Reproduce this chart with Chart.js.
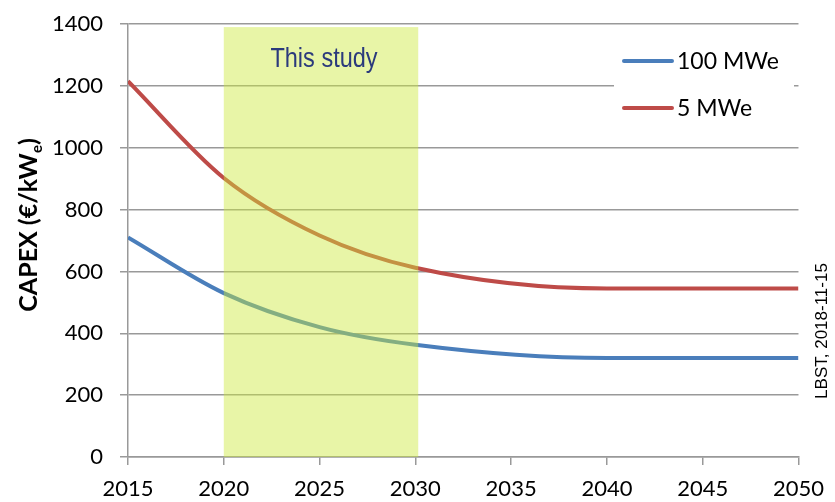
<!DOCTYPE html>
<html>
<head>
<meta charset="utf-8">
<script src="https://cdn.jsdelivr.net/npm/chart.js@4.4.0/dist/chart.umd.min.js"></script>
<style>
  html, body { margin: 0; padding: 0; background: #fff; }
  #wrap { width: 835px; height: 502px; }
</style>
</head>
<body>
<div id="wrap"><canvas id="capexChart"></canvas></div>
<script>
// data
const years = [2015, 2020, 2025, 2030, 2040, 2050];
const mwe100 = [710, 530, 420, 363, 320, 320];
const mwe5 = [1215, 902, 716, 612, 545, 545];
const xTicks = [2015, 2020, 2025, 2030, 2035, 2040, 2045, 2050];
const yTicks = [0, 200, 400, 600, 800, 1000, 1200, 1400];
const studyRange = [2020, 2030.15];
const seriesNames = ['100 MWe', '5 MWe'];

const tickFont = { family: 'Lato, "Open Sans", sans-serif', size: 22 };

// shaded band + its label, drawn over the lines like in the original
const overlayPlugin = {
    id: 'overlay',
    afterDatasetsDraw(chart) {
        const ctx = chart.ctx;
        const x = chart.scales.x, y = chart.scales.y;
        const x0 = x.getPixelForValue(studyRange[0]);
        const x1 = x.getPixelForValue(studyRange[1]);
        const top = y.getPixelForValue(1390);
        const bottom = y.getPixelForValue(0);
        ctx.save();
        ctx.fillStyle = 'rgba(205, 232, 60, 0.45)';
        ctx.fillRect(x0, top, x1 - x0, bottom - top);

        // narrow font is not installed, squeeze the regular one
        ctx.save();
        ctx.translate((x0 + x1) / 2 + 3, 67);
        ctx.scale(0.84, 1);
        ctx.fillStyle = '#2b3a7c';
        ctx.font = '28px "Liberation Sans", Arial, sans-serif';
        ctx.textAlign = 'center';
        ctx.textBaseline = 'alphabetic';
        ctx.fillText('This study', 0, 0);
        ctx.restore();

        // legend box
        ctx.fillStyle = '#fff';
        ctx.fillRect(614, 32, 180, 100);
        const colors = ['#4a7ebb', '#be4b48'];
        const rows = [61, 108];
        ctx.lineCap = 'round';
        ctx.lineWidth = 4;
        ctx.font = '23px Lato, "Open Sans", sans-serif';
        ctx.textAlign = 'left';
        ctx.textBaseline = 'middle';
        rows.forEach((ry, i) => {
            ctx.strokeStyle = colors[i];
            ctx.beginPath();
            ctx.moveTo(624, ry);
            ctx.lineTo(672, ry);
            ctx.stroke();
            ctx.fillStyle = '#000';
            ctx.fillText(seriesNames[i], 677, ry + 1);
        });

        // y axis title with subscript
        ctx.translate(28, 225);
        ctx.rotate(-Math.PI / 2);
        const big = 'bold 25px Lato, "Open Sans", sans-serif';
        const small = 'bold 15px Lato, "Open Sans", sans-serif';
        ctx.font = big;
        const w1 = ctx.measureText('CAPEX (€/kW').width;
        const w3 = ctx.measureText(')').width;
        ctx.font = small;
        const w2 = ctx.measureText('e').width;
        let cx = -(w1 + w2 + w3) / 2;
        ctx.fillStyle = '#000';
        ctx.textAlign = 'left';
        ctx.textBaseline = 'alphabetic';
        ctx.font = big;
        ctx.fillText('CAPEX (€/kW', cx, 9);
        cx += w1;
        ctx.font = small;
        ctx.fillText('e', cx, 14);
        cx += w2;
        ctx.font = big;
        ctx.fillText(')', cx, 9);
        ctx.restore();

        // stamp on the right
        ctx.save();
        ctx.translate(822, 331);
        ctx.rotate(-Math.PI / 2);
        ctx.fillStyle = '#000';
        ctx.font = '17px "Liberation Sans", Arial, sans-serif';
        ctx.textAlign = 'center';
        ctx.textBaseline = 'middle';
        ctx.fillText('LBST, 2018-11-15', 0, 0);
        ctx.restore();
    }
};

const ctx = document.getElementById('capexChart').getContext('2d');

const capexChart = new Chart(ctx, {
    type: 'line',
    data: {
        labels: years,
        datasets: [{
            label: seriesNames[0],
            data: years.map((yr, i) => ({ x: yr, y: mwe100[i] })),
            borderColor: '#4a7ebb',
            borderWidth: 4,
            pointRadius: 0,
            cubicInterpolationMode: 'monotone',
            fill: false
        }, {
            label: seriesNames[1],
            data: years.map((yr, i) => ({ x: yr, y: mwe5[i] })),
            borderColor: '#be4b48',
            borderWidth: 4,
            pointRadius: 0,
            cubicInterpolationMode: 'monotone',
            fill: false
        }]
    },
    options: {
        responsive: true,
        maintainAspectRatio: false,
        animation: false,
        layout: { padding: { left: 0, right: 36, top: 24, bottom: 0 } },
        plugins: {
            legend: { display: false },
            tooltip: { enabled: false }
        },
        scales: {
            x: {
                type: 'linear',
                min: 2015,
                max: 2050,
                afterBuildTicks: (scale) => { scale.ticks = xTicks.map(v => ({ value: v })); },
                afterFit: (scale) => { scale.height = 45; },
                ticks: {
                    font: tickFont,
                    color: '#000',
                    padding: 11,
                    maxRotation: 0,
                    callback: (v) => String(v)
                },
                grid: {
                    drawOnChartArea: false,
                    drawTicks: true,
                    tickLength: 8,
                    color: '#999',
                    lineWidth: 1.5
                },
                border: { display: true, color: '#999', width: 1.5 }
            },
            y: {
                min: 0,
                max: 1400,
                afterBuildTicks: (scale) => { scale.ticks = yTicks.map(v => ({ value: v })); },
                afterFit: (scale) => {
                    scale.width = 128;
                    // tick padding should not push the plot top down
                    scale.paddingTop = 12;
                    scale.paddingBottom = 12;
                },
                ticks: {
                    font: tickFont,
                    color: '#000',
                    padding: 17,
                    callback: (v) => String(v)
                },
                grid: {
                    color: '#999',
                    lineWidth: 1.5,
                    tickLength: 8
                },
                border: { display: true, color: '#999', width: 1.5 }
            }
        }
    },
    plugins: [overlayPlugin]
});
</script>
</body>
</html>
